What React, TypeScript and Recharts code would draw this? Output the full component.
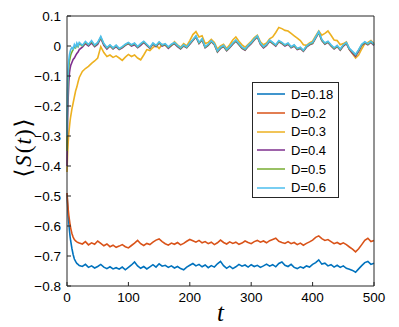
import React from 'react';
import { LineChart, Line, XAxis, YAxis } from 'recharts';

const T = [0, 1, 2, 3, 4, 5, 6, 8, 10, 12, 14, 16, 18, 20,
  25, 30, 35, 40, 45, 50, 55, 60, 65, 70,
  75, 80, 85, 90, 95, 100, 105, 110, 115, 120,
  125, 130, 135, 140, 145, 150, 155, 160, 165, 170,
  175, 180, 185, 190, 195, 200, 205, 210, 215, 220,
  225, 230, 235, 240, 245, 250, 255, 260, 265, 270,
  275, 280, 285, 290, 295, 300, 305, 310, 315, 320,
  325, 330, 335, 340, 345, 350, 355, 360, 365, 370,
  375, 380, 385, 390, 395, 400, 405, 410, 415, 420,
  425, 430, 435, 440, 445, 450, 455, 460, 465, 470,
  475, 480, 485, 490, 495, 500];

const D018 = [-0.49, -0.53, -0.565, -0.59, -0.615, -0.635, -0.65, -0.675, -0.695, -0.71, -0.718, -0.725, -0.728, -0.732,
  -0.735, -0.728, -0.738, -0.733, -0.740, -0.735, -0.728, -0.737, -0.742, -0.736,
  -0.743, -0.739, -0.744, -0.737, -0.746, -0.738, -0.73, -0.72, -0.733, -0.741,
  -0.735, -0.743, -0.736, -0.729, -0.737, -0.726, -0.734, -0.731, -0.738, -0.733,
  -0.740, -0.735, -0.742, -0.746, -0.737, -0.731, -0.725, -0.733, -0.728, -0.736,
  -0.73, -0.739, -0.732, -0.737, -0.726, -0.718, -0.732, -0.741, -0.734, -0.742,
  -0.736, -0.728, -0.734, -0.73, -0.737, -0.729, -0.735, -0.731, -0.738, -0.733,
  -0.727, -0.734, -0.729, -0.736, -0.725, -0.72, -0.731, -0.735, -0.728, -0.738,
  -0.742, -0.736, -0.74, -0.733, -0.737, -0.728, -0.722, -0.713, -0.727, -0.724,
  -0.733, -0.729, -0.737, -0.731, -0.738, -0.733, -0.741, -0.744, -0.748, -0.754,
  -0.743, -0.732, -0.722, -0.718, -0.728, -0.724];

const D02 = [-0.49, -0.52, -0.545, -0.565, -0.58, -0.595, -0.607, -0.625, -0.637, -0.645, -0.65, -0.653, -0.655, -0.657,
  -0.66, -0.652, -0.663, -0.656, -0.661, -0.65, -0.658, -0.666, -0.66, -0.669,
  -0.664, -0.671, -0.667, -0.662, -0.669, -0.673, -0.665, -0.657, -0.648, -0.659,
  -0.665, -0.658, -0.662, -0.654, -0.647, -0.643, -0.652, -0.659, -0.664, -0.657,
  -0.661, -0.655, -0.663, -0.658, -0.651, -0.645, -0.649, -0.654, -0.648, -0.656,
  -0.652, -0.659, -0.654, -0.662, -0.656, -0.647, -0.655, -0.66, -0.653, -0.658,
  -0.654, -0.661, -0.657, -0.65, -0.655, -0.659, -0.652, -0.648, -0.654, -0.65,
  -0.656, -0.649, -0.645, -0.641, -0.651, -0.655, -0.658, -0.652, -0.659, -0.655,
  -0.662, -0.657, -0.664, -0.658, -0.653, -0.647, -0.638, -0.633, -0.642, -0.648,
  -0.645, -0.652, -0.659, -0.655, -0.661, -0.656, -0.662, -0.67, -0.677, -0.686,
  -0.676, -0.662, -0.648, -0.641, -0.652, -0.648];

const D03 = [-0.42, -0.36, -0.32, -0.29, -0.27, -0.25, -0.235, -0.21, -0.19, -0.17, -0.15, -0.137, -0.12, -0.105,
  -0.085, -0.075, -0.068, -0.058, -0.05, -0.04, -0.002, -0.022, -0.035, -0.03,
  -0.038, -0.033, -0.04, -0.048, -0.037, -0.028, -0.035, -0.03, -0.04, -0.046,
  -0.03, -0.012, -0.015, -0.005, 0.003, -0.008, 0.005, 0.002, -0.006, 0.001,
  0.014, 0.004, -0.004, 0.008, 0.0, 0.018, 0.038, 0.048, 0.03, 0.034,
  0.008, 0.012, 0.022, 0.012, -0.01, 0.0, 0.006, -0.008, 0.004, 0.02,
  0.03, 0.016, 0.004, -0.004, 0.006, 0.016, 0.028, 0.036, 0.014, 0.004,
  0.01, 0.024, 0.03, 0.045, 0.062, 0.058, 0.052, 0.05, 0.042, 0.034,
  0.026, 0.018, 0.004, 0.002, 0.01, 0.016, 0.034, 0.05, 0.036, 0.042,
  0.05, 0.036, 0.02, 0.018, 0.004, 0.008, 0.014, -0.012, -0.026, -0.04,
  -0.03, -0.01, 0.008, 0.012, 0.018, 0.008];

const D04 = [-0.4, -0.24, -0.17, -0.12, -0.09, -0.075, -0.065, -0.055, -0.045, -0.04, -0.032, -0.025, -0.02, -0.012,
  -0.004, 0.008, 0.0, 0.01, -0.002, 0.006, 0.026, 0.002, -0.01, 0.0,
  -0.01, -0.002, -0.012, -0.006, 0.002, 0.008, 0.0, 0.004, -0.006, 0.002,
  0.012, 0.002, -0.008, 0.006, -0.002, 0.01, 0.0, 0.004, -0.008, 0.002,
  0.008, -0.002, -0.01, 0.0, -0.006, 0.006, 0.018, 0.03, 0.008, 0.02,
  -0.006, 0.002, 0.014, 0.004, -0.02, -0.008, -0.002, -0.016, -0.006, 0.006,
  0.016, 0.004, -0.008, -0.014, -0.002, 0.008, 0.02, 0.03, 0.006, -0.006,
  0.002, 0.016, 0.008, 0.0, 0.014, 0.008, 0.0, 0.006, -0.006, 0.0,
  -0.012, -0.008, -0.018, -0.004, 0.004, 0.008, 0.026, 0.044, 0.018, 0.006,
  0.012, 0.0, -0.01, -0.002, -0.014, 0.0, 0.008, -0.012, -0.024, -0.034,
  -0.018, 0.002, 0.01, 0.004, 0.012, 0.002];

const D05 = [-0.35, -0.15, -0.095, -0.07, -0.05, -0.04, -0.03, -0.02, -0.012, -0.002, -0.006, 0.006, -0.002, 0.008,
  0.0, 0.012, 0.004, 0.015, 0.001, 0.01, 0.029, 0.006, -0.007, 0.002,
  -0.008, 0.001, -0.01, -0.004, 0.004, 0.01, 0.002, 0.008, -0.004, 0.006,
  0.014, 0.004, -0.006, 0.008, 0.0, 0.012, 0.002, 0.006, -0.005, 0.004,
  0.01, 0.0, -0.008, 0.002, -0.005, 0.008, 0.02, 0.032, 0.01, 0.022,
  -0.004, 0.004, 0.016, 0.006, -0.018, -0.006, 0.0, -0.014, -0.004, 0.008,
  0.018, 0.006, -0.006, -0.012, 0.0, 0.01, 0.022, 0.032, 0.008, -0.004,
  0.004, 0.018, 0.01, 0.002, 0.016, 0.01, 0.002, 0.008, -0.004, 0.002,
  -0.01, -0.006, -0.016, -0.002, 0.006, 0.01, 0.028, 0.046, 0.02, 0.008,
  0.014, 0.002, -0.008, 0.0, -0.012, 0.002, 0.01, -0.01, -0.02, -0.03,
  -0.014, 0.004, 0.012, 0.006, 0.014, 0.004];

const D06 = [-0.3, -0.12, -0.07, -0.045, -0.03, -0.02, -0.012, -0.005, -0.01, 0.005, -0.003, 0.01, 0.0, 0.012,
  0.002, 0.015, 0.005, 0.018, 0.003, 0.012, 0.032, 0.008, -0.005, 0.004,
  -0.006, 0.003, -0.008, -0.002, 0.006, 0.012, 0.004, 0.01, -0.002, 0.008,
  0.016, 0.006, -0.004, 0.01, 0.002, 0.014, 0.004, 0.008, -0.003, 0.006,
  0.012, 0.002, -0.006, 0.004, -0.003, 0.01, 0.022, 0.034, 0.012, 0.024,
  -0.002, 0.006, 0.018, 0.008, -0.016, -0.004, 0.002, -0.012, -0.002, 0.01,
  0.02, 0.008, -0.004, -0.01, 0.002, 0.012, 0.024, 0.034, 0.01, -0.002,
  0.006, 0.02, 0.012, 0.004, 0.018, 0.012, 0.004, 0.01, -0.002, 0.004,
  -0.008, -0.004, -0.014, 0.0, 0.008, 0.012, 0.03, 0.048, 0.022, 0.01,
  0.016, 0.004, -0.006, 0.002, -0.01, 0.004, 0.012, -0.008, -0.018, -0.028,
  -0.012, 0.006, 0.014, 0.008, 0.016, 0.006];

const X_TICKS = [0, 100, 200, 300, 400, 500];
const Y_TICKS = [-0.8, -0.7, -0.6, -0.5, -0.4, -0.3, -0.2, -0.1, 0, 0.1];

const SERIES = [
  { key: 'd018', name: 'D=0.18', color: '#0072BD', values: D018 },
  { key: 'd02', name: 'D=0.2', color: '#D95319', values: D02 },
  { key: 'd03', name: 'D=0.3', color: '#EDB120', values: D03 },
  { key: 'd04', name: 'D=0.4', color: '#7E2F8E', values: D04 },
  { key: 'd05', name: 'D=0.5', color: '#77AC30', values: D05 },
  { key: 'd06', name: 'D=0.6', color: '#4DBEEE', values: D06 },
];

const data = T.map((t, i) => {
  const row: Record<string, number> = { t };
  SERIES.forEach((s) => { row[s.key] = s.values[i]; });
  return row;
});

const AXIS = '#262626';
const FONT = '"Liberation Sans", Arial, Helvetica, sans-serif';
const tickStyle = { fill: '#000', fontSize: 13.5, fontFamily: FONT };

const fmtY = (v: number) => {
  const s = Math.abs(v) < 1e-9 ? '0' : v.toFixed(1);
  return s.replace('-', '\u2212');
};

const LegendBox = () => (
  <div style={{
    position: 'absolute', left: 252, top: 82,
    border: `1px solid ${AXIS}`, background: '#fff', width: 87, height: 116,
    boxSizing: 'border-box', paddingTop: 2, fontFamily: FONT, fontSize: 13, color: '#000',
  }}>
    {SERIES.map((s) => (
      <div key={s.key} style={{ display: 'flex', alignItems: 'center', height: 18.7 }}>
        <svg width={28} height={4} style={{ marginLeft: 4, marginRight: 6, display: 'block' }}>
          <line x1={0} y1={2} x2={28} y2={2} stroke={s.color} strokeWidth={1.5} />
        </svg>
        <span>{s.name}</span>
      </div>
    ))}
  </div>
);

const YLabel = (props: any) => {
  const vb = props.viewBox || {};
  const cx = 31;
  const cy = (vb.y || 0) + (vb.height || 0) / 2 - 3;
  return (
    <text x={cx} y={cy} transform={`rotate(-90, ${cx}, ${cy})`} textAnchor="middle"
      style={{ fontSize: 23, fontFamily: '"DejaVu Serif", "Liberation Serif", serif' }} fill="#000">
      <tspan style={{ fontFamily: '"DejaVu Sans", sans-serif' }}>{'\u27E8'}</tspan>
      <tspan fontStyle="italic" style={{ fontFamily: '"Liberation Serif", serif' }} dx="2">S</tspan>
      <tspan style={{ fontFamily: '"Liberation Serif", serif' }} dx="2">(</tspan>
      <tspan fontStyle="italic" style={{ fontFamily: '"Liberation Serif", serif' }} dx="1">t</tspan>
      <tspan style={{ fontFamily: '"Liberation Serif", serif' }} dx="1">)</tspan>
      <tspan style={{ fontFamily: '"DejaVu Sans", sans-serif' }} dx="2">{'\u27E9'}</tspan>
    </text>
  );
};

const XLabel = (props: any) => {
  const vb = props.viewBox || {};
  const cx = (vb.x || 0) + (vb.width || 0) / 2;
  return (
    <text x={cx} y={321} textAnchor="middle" fill="#000"
      style={{ fontSize: 25, fontStyle: 'italic', fontFamily: '"Liberation Serif", serif' }}>t</text>
  );
};

export default function App() {
  return (
    <div style={{ position: 'absolute', left: 0, top: 0, width: 399, height: 327, background: '#fff' }}>
      <LineChart width={399} height={327} data={data}
        margin={{ top: 15, right: 24, bottom: 11, left: 7 }}>
        <XAxis dataKey="t" type="number" domain={[0, 500]} ticks={X_TICKS} interval={0}
          axisLine={{ stroke: AXIS }} tickLine={{ stroke: AXIS }} tickSize={-4} tickMargin={10}
          tick={tickStyle} height={30} label={<XLabel />} />
        <XAxis xAxisId="top" orientation="top" type="number" domain={[0, 500]} ticks={X_TICKS} interval={0}
          axisLine={{ stroke: AXIS }} tickLine={{ stroke: AXIS }} tickSize={-4} tick={false} height={1} />
        <YAxis type="number" domain={[-0.8, 0.1]} ticks={Y_TICKS} interval={0} tickFormatter={fmtY}
          axisLine={{ stroke: AXIS }} tickLine={{ stroke: AXIS }} tickSize={-4} tickMargin={10}
          tick={tickStyle} width={60} label={<YLabel />} />
        <YAxis yAxisId="right" orientation="right" type="number" domain={[-0.8, 0.1]} ticks={Y_TICKS} interval={0}
          axisLine={{ stroke: AXIS }} tickLine={{ stroke: AXIS }} tickSize={-4} tick={false} width={1} />
        {SERIES.map((s) => (
          <Line key={s.key} dataKey={s.key} name={s.name} stroke={s.color} strokeWidth={1.6}
            dot={false} isAnimationActive={false} />
        ))}
      </LineChart>
      <LegendBox />
    </div>
  );
}
